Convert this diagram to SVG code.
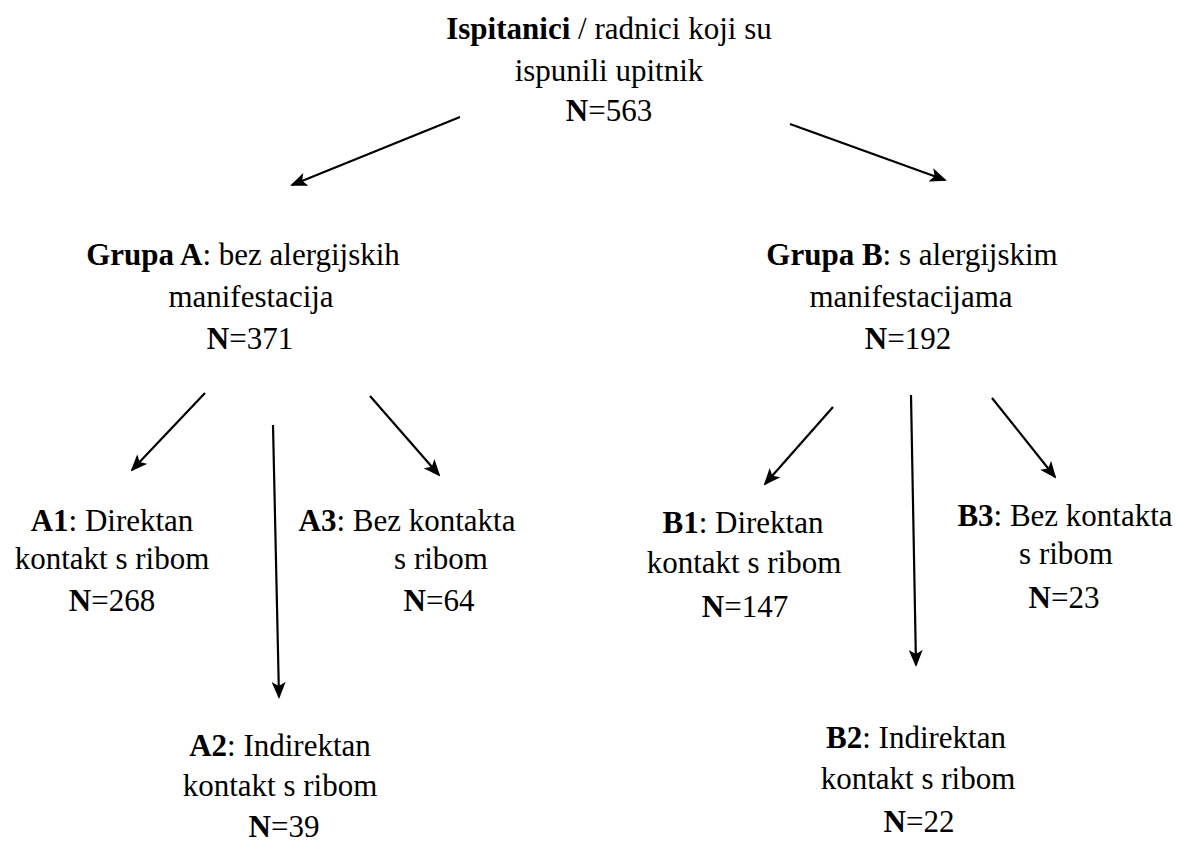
<svg xmlns="http://www.w3.org/2000/svg" width="1177" height="843" viewBox="0 0 1177 843">
<defs>
<marker id="ah" markerUnits="userSpaceOnUse" viewBox="0 0 17 14" refX="15" refY="7" markerWidth="17" markerHeight="14" orient="auto">
<path d="M0,0 L17,7 L0,14 L4,7 Z" fill="#000"/>
</marker>
</defs>
<style>
text{font-family:'Liberation Serif','Times New Roman',serif;font-size:31px;fill:#000;text-anchor:middle}
.b{font-weight:bold}
.c{stroke:#000;stroke-width:2.2;fill:none;marker-end:url(#ah)}
</style>
<rect width="1177" height="843" fill="#fff"/>
<g id="connectors">
<line class="c" x1="460" y1="117" x2="292" y2="185"/>
<line class="c" x1="790" y1="124" x2="945" y2="180"/>
<line class="c" x1="205" y1="393" x2="132" y2="470"/>
<line class="c" x1="273" y1="425" x2="279" y2="697"/>
<line class="c" x1="370" y1="396" x2="439" y2="475"/>
<line class="c" x1="833" y1="407" x2="765" y2="484"/>
<line class="c" x1="911" y1="395" x2="916" y2="665"/>
<line class="c" x1="992" y1="398" x2="1055" y2="477"/>
</g>
<g id="root">
<text x="609" y="39"><tspan class="b">Ispitanici</tspan> / radnici koji su</text>
<text x="609" y="81">ispunili upitnik</text>
<text x="609" y="121"><tspan class="b">N</tspan>=563</text>
</g>
<g id="grupaA">
<text x="243" y="265"><tspan class="b">Grupa A</tspan>: bez alergijskih</text>
<text x="251" y="307">manifestacija</text>
<text x="250" y="349"><tspan class="b">N</tspan>=371</text>
</g>
<g id="grupaB">
<text x="912" y="265"><tspan class="b">Grupa B</tspan>: s alergijskim</text>
<text x="911" y="307">manifestacijama</text>
<text x="908" y="349"><tspan class="b">N</tspan>=192</text>
</g>
<g id="A1">
<text x="112" y="531"><tspan class="b">A1</tspan>: Direktan</text>
<text x="112" y="569">kontakt s ribom</text>
<text x="112" y="611"><tspan class="b">N</tspan>=268</text>
</g>
<g id="A2">
<text x="280" y="756"><tspan class="b">A2</tspan>: Indirektan</text>
<text x="280" y="796">kontakt s ribom</text>
<text x="284" y="837"><tspan class="b">N</tspan>=39</text>
</g>
<g id="A3">
<text x="407" y="531"><tspan class="b">A3</tspan>: Bez kontakta</text>
<text x="441" y="569">s ribom</text>
<text x="439" y="611"><tspan class="b">N</tspan>=64</text>
</g>
<g id="B1">
<text x="743" y="533"><tspan class="b">B1</tspan>: Direktan</text>
<text x="744" y="573">kontakt s ribom</text>
<text x="745" y="617"><tspan class="b">N</tspan>=147</text>
</g>
<g id="B2">
<text x="916" y="748"><tspan class="b">B2</tspan>: Indirektan</text>
<text x="918" y="789">kontakt s ribom</text>
<text x="919" y="832"><tspan class="b">N</tspan>=22</text>
</g>
<g id="B3">
<text x="1065" y="526"><tspan class="b">B3</tspan>: Bez kontakta</text>
<text x="1066" y="564">s ribom</text>
<text x="1064" y="608"><tspan class="b">N</tspan>=23</text>
</g>
</svg>
